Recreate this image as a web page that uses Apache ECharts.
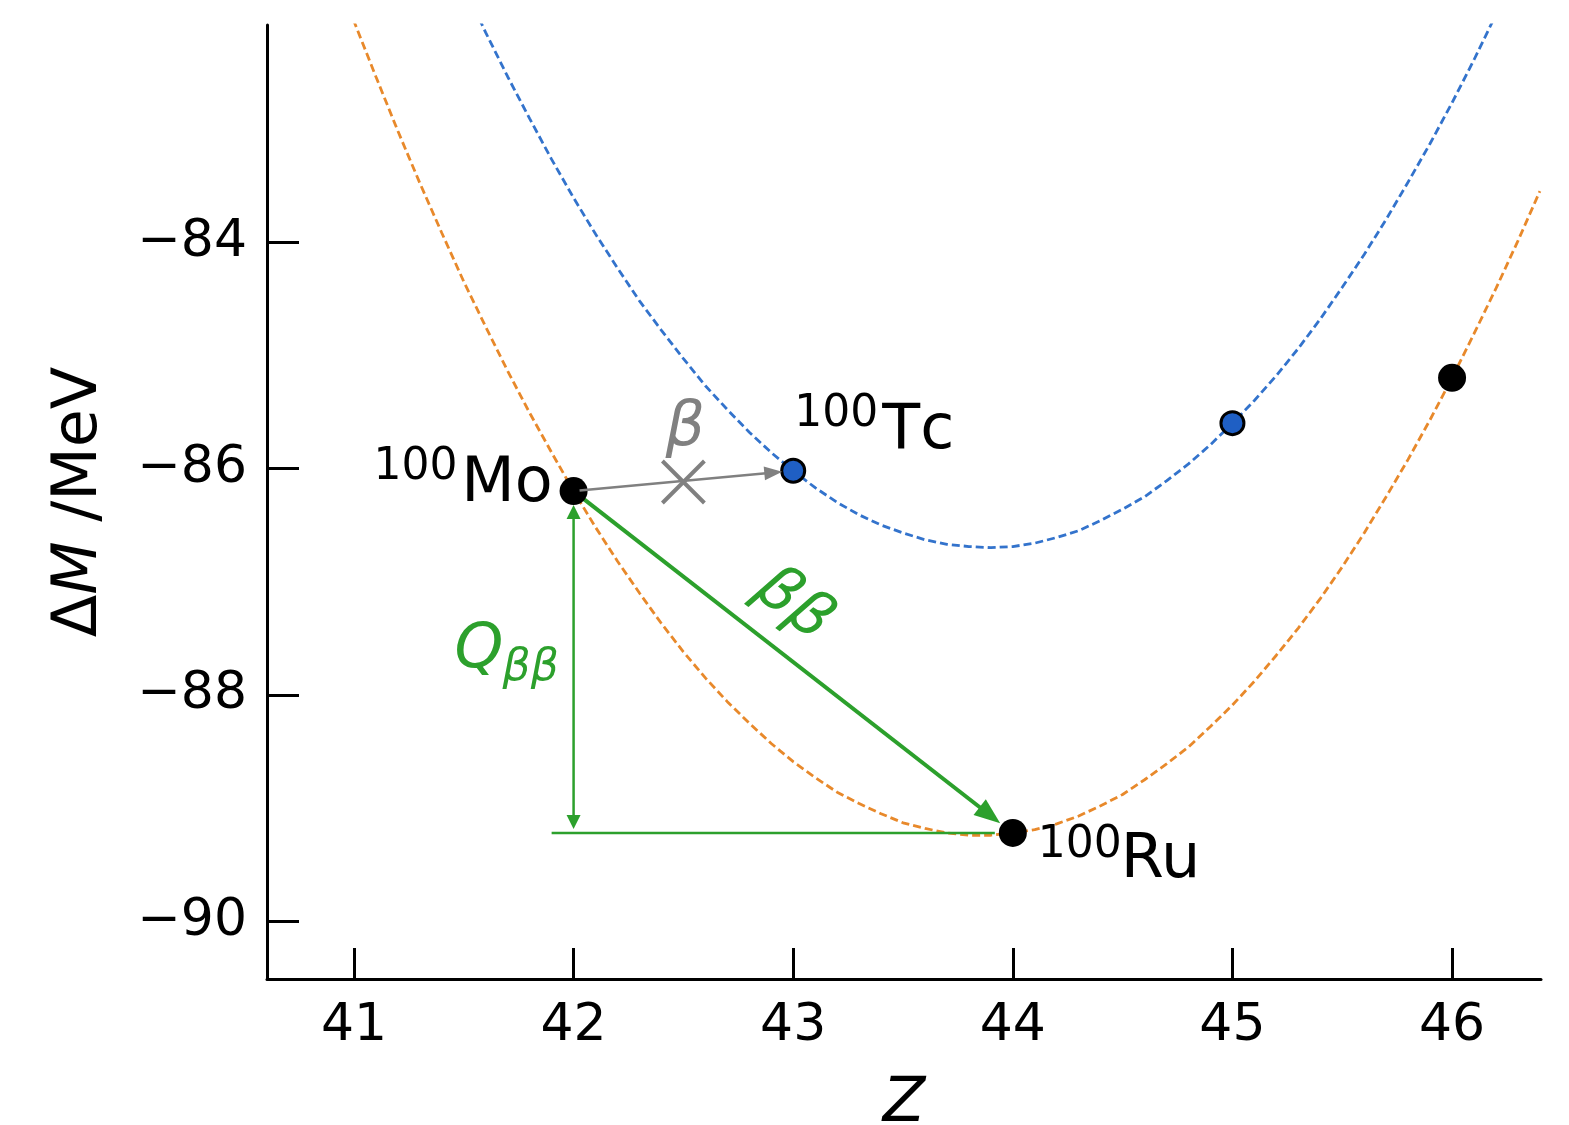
<!DOCTYPE html>
<html><head><meta charset="utf-8">
<script src="https://cdn.jsdelivr.net/npm/echarts@6/dist/echarts.min.js"></script>
<style>html,body{margin:0;padding:0;background:#fff}#c{width:1569px;height:1125px}</style>
</head><body><div id="c"></div>
<script>
// ---- data ----
const xTicks = [41, 42, 43, 44, 45, 46];
const yTicks = [-90, -88, -86, -84];
// even-even nuclei (black) : 100Mo, 100Ru, 100Pd
const evenZ = [42, 44, 46];
const evenDM = [-86.2, -89.22, -85.2];
// odd-odd nuclei (blue) : 100Tc, 100Rh
const oddZ = [43, 45];
const oddDM = [-86.02, -85.6];
// dashed mass parabolas
const evenCurveZ = [40.9, 41.0, 41.1, 41.2, 41.3, 41.4, 41.5, 41.6, 41.7, 41.8, 41.9, 42.0, 42.1, 42.2, 42.3, 42.4, 42.5, 42.6, 42.7, 42.8, 42.9, 43.0, 43.1, 43.2, 43.3, 43.4, 43.5, 43.6, 43.7, 43.8, 43.9, 44.0, 44.1, 44.2, 44.3, 44.4, 44.5, 44.6, 44.7, 44.8, 44.9, 45.0, 45.1, 45.2, 45.3, 45.4, 45.5, 45.6, 45.7, 45.8, 45.9, 46.0, 46.1, 46.2, 46.3, 46.4];
const evenCurveDM = [-81.54, -82.05, -82.54, -83.02, -83.48, -83.92, -84.35, -84.75, -85.14, -85.51, -85.86, -86.20, -86.52, -86.82, -87.10, -87.37, -87.62, -87.85, -88.06, -88.25, -88.43, -88.59, -88.73, -88.86, -88.96, -89.05, -89.13, -89.18, -89.22, -89.24, -89.24, -89.22, -89.19, -89.14, -89.07, -88.98, -88.88, -88.75, -88.61, -88.46, -88.28, -88.09, -87.88, -87.65, -87.41, -87.15, -86.87, -86.57, -86.25, -85.92, -85.57, -85.20, -84.81, -84.41, -83.99, -83.55];
const oddCurveZ = [41.5, 41.6, 41.7, 41.8, 41.9, 42.0, 42.1, 42.2, 42.3, 42.4, 42.5, 42.6, 42.7, 42.8, 42.9, 43.0, 43.1, 43.2, 43.3, 43.4, 43.5, 43.6, 43.7, 43.8, 43.9, 44.0, 44.1, 44.2, 44.3, 44.4, 44.5, 44.6, 44.7, 44.8, 44.9, 45.0, 45.1, 45.2, 45.3, 45.4, 45.5, 45.6, 45.7, 45.8, 45.9, 46.0, 46.1, 46.2, 46.3];
const oddCurveDM = [-81.74, -82.15, -82.54, -82.91, -83.27, -83.61, -83.93, -84.23, -84.52, -84.78, -85.03, -85.27, -85.48, -85.68, -85.86, -86.02, -86.17, -86.30, -86.41, -86.50, -86.57, -86.63, -86.67, -86.69, -86.70, -86.69, -86.66, -86.61, -86.55, -86.46, -86.36, -86.25, -86.11, -85.96, -85.79, -85.60, -85.40, -85.18, -84.94, -84.68, -84.40, -84.11, -83.80, -83.47, -83.13, -82.77, -82.39, -81.99, -81.58];
const massNumber = '100';
const nuclideNames = ['Mo', 'Tc', 'Ru'];
const forbiddenZ = [42.5];
const forbiddenDM = [-86.12];
const qBaseStartZ = [41.9];

// ---- styles ----
const FONT = 'DejaVu Sans';
const GREEN = '#2ca02c';
const GRAY = '#808080';
const BLUE_LINE = '#3373cc';
const BLUE_DOT = '#1f5fc4';
const ORANGE = '#e8892b';

const Mo = [evenZ[0], evenDM[0]];
const Ru = [evenZ[1], evenDM[1]];
const Tc = [oddZ[0], oddDM[0]];

function headEl(tip, ux, uy, L, W, color) {
  const bx = tip[0] - ux * L, by = tip[1] - uy * L;
  return { type: 'polygon', shape: { points: [tip, [bx - uy * W, by + ux * W], [bx + uy * W, by - ux * W]] }, style: { fill: color } };
}
function arrowEls(p1, p2, sA, sB, headA, headB, L, W, lw, color) {
  const dx = p2[0] - p1[0], dy = p2[1] - p1[1], d = Math.hypot(dx, dy), ux = dx / d, uy = dy / d;
  const a = [p1[0] + ux * sA, p1[1] + uy * sA], b = [p2[0] - ux * sB, p2[1] - uy * sB];
  const la = headA ? [a[0] + ux * L * 0.9, a[1] + uy * L * 0.9] : a;
  const lb = headB ? [b[0] - ux * L * 0.9, b[1] - uy * L * 0.9] : b;
  const els = [{ type: 'line', shape: { x1: la[0], y1: la[1], x2: lb[0], y2: lb[1] }, style: { stroke: color, lineWidth: lw } }];
  if (headB) els.push(headEl(b, ux, uy, L, W, color));
  if (headA) els.push(headEl(a, -ux, -uy, L, W, color));
  return els;
}
function txt(x, y, text, size, color, align, italic, rot) {
  return { type: 'text', x: x, y: y, rotation: rot || 0,
    style: { text: text, fill: color, fontSize: size, fontFamily: FONT, fontStyle: italic ? 'italic' : 'normal', align: align, verticalAlign: 'middle' } };
}

const chart = echarts.init(document.getElementById('c'), null, { renderer: 'canvas' });
chart.setOption({
  animation: false,
  backgroundColor: '#fff',
  grid: { left: 267, right: 28, top: 25, bottom: 146, containLabel: false, outerBoundsMode: 'none' },
  xAxis: {
    type: 'value', min: 40.604, max: 46.405,
    axisLine: { onZero: false, lineStyle: { color: '#000', width: 3 } },
    axisTick: { inside: true, length: 31, customValues: xTicks, lineStyle: { color: '#000', width: 3 } },
    axisLabel: { customValues: xTicks, fontSize: 52, fontFamily: FONT, color: '#000', margin: 21 },
    splitLine: { show: false },
    name: 'Z', nameLocation: 'middle', nameGap: 95,
    nameTextStyle: { fontSize: 62, fontStyle: 'italic', fontFamily: FONT, color: '#000' }
  },
  yAxis: {
    type: 'value', min: -90.51, max: -82.083,
    axisLine: { show: true, onZero: false, lineStyle: { color: '#000', width: 3 } },
    axisTick: { show: true, inside: true, length: 32, customValues: yTicks, lineStyle: { color: '#000', width: 3 } },
    axisLabel: { customValues: yTicks, fontSize: 52, fontFamily: FONT, color: '#000', margin: 20,
      formatter: v => String(v).replace('-', '\u2212') },
    splitLine: { show: false },
    name: '{n|\u0394}{i|M}{n| /MeV}', nameLocation: 'middle', nameGap: 156,
    nameTextStyle: { fontSize: 62, fontFamily: FONT, color: '#000',
      rich: { n: { fontSize: 62, fontFamily: FONT, color: '#000' }, i: { fontSize: 62, fontFamily: FONT, fontStyle: 'italic', color: '#000' } } }
  },
  series: [
    { type: 'line', z: 1, data: evenCurveZ.map((z, i) => [z, evenCurveDM[i]]), smooth: false, showSymbol: false, symbol: 'none',
      lineStyle: { color: ORANGE, width: 2.8, type: [8, 4] }, clip: true },
    { type: 'line', z: 1, data: oddCurveZ.map((z, i) => [z, oddCurveDM[i]]), smooth: false, showSymbol: false, symbol: 'none',
      lineStyle: { color: BLUE_LINE, width: 2.8, type: [8, 4] }, clip: true },
    { type: 'custom', z: 2, data: [[Mo[0], Mo[1]]], clip: false,
      renderItem: function (params, api) {
        const pMo = api.coord(Mo), pRu = api.coord(Ru);
        const pBot = api.coord([Mo[0], Ru[1]]);
        const pBase = api.coord([qBaseStartZ[0], Ru[1]]);
        let ch = [];
        ch = ch.concat(arrowEls(pBase, pRu, 0, 18, false, false, 0, 0, 2.5, GREEN));
        ch = ch.concat(arrowEls(pMo, pBot, 14, 4, true, true, 14, 7, 2.5, GREEN));
        ch = ch.concat(arrowEls(pMo, pRu, 13, 16, false, true, 26, 10, 4, GREEN));
        const mid = [(pMo[0] + pRu[0]) / 2, (pMo[1] + pRu[1]) / 2];
        const ang = Math.atan2(pRu[1] - pMo[1], pRu[0] - pMo[0]);
        ch.push(txt(mid[0], mid[1] - 57, '\u03b2\u03b2', 62, GREEN, 'center', true, -ang));
        const vm = [pMo[0], (pMo[1] + pBot[1]) / 2];
        ch.push(txt(vm[0] - 119, vm[1] - 11, 'Q', 62, GREEN, 'left', true));
        ch.push(txt(vm[0] - 71, vm[1] + 6.5, '\u03b2\u03b2', 44, GREEN, 'left', true));
        return { type: 'group', children: ch };
      } },
    { type: 'scatter', z: 3, data: evenZ.map((z, i) => [z, evenDM[i]]), symbol: 'circle', symbolSize: 28,
      itemStyle: { color: '#000', opacity: 1 } },
    { type: 'scatter', z: 3, data: oddZ.map((z, i) => [z, oddDM[i]]), symbol: 'circle', symbolSize: 23,
      itemStyle: { color: BLUE_DOT, borderColor: '#000', borderWidth: 3, opacity: 1 } },
    { type: 'custom', z: 4, data: [[forbiddenZ[0], forbiddenDM[0]]], clip: false,
      renderItem: function (params, api) {
        const pMo = api.coord(Mo), pTc = api.coord(Tc), pRu = api.coord(Ru);
        const px = api.coord([api.value(0), api.value(1)]);
        let ch = arrowEls(pMo, pTc, 6, 11, false, true, 18, 7, 2.5, GRAY);
        const s = 21;
        ch.push({ type: 'line', shape: { x1: px[0] - s, y1: px[1] - s, x2: px[0] + s, y2: px[1] + s }, style: { stroke: GRAY, lineWidth: 4 } });
        ch.push({ type: 'line', shape: { x1: px[0] - s, y1: px[1] + s, x2: px[0] + s, y2: px[1] - s }, style: { stroke: GRAY, lineWidth: 4 } });
        ch.push(txt(px[0] + 2, px[1] - 53.5, '\u03b2', 62, GRAY, 'center', true));
        // nuclide labels (letters drawn separately: no kerning, as in the reference)
        ch.push(txt(pMo[0] - 21, pMo[1] - 6, nuclideNames[0], 62, '#000', 'right'));
        ch.push(txt(pMo[0] - 116, pMo[1] - 24, massNumber, 44, '#000', 'right'));
        ch.push(txt(pTc[0] + 1, pTc[1] - 56, massNumber, 44, '#000', 'left'));
        ch.push(txt(pTc[0] + 89, pTc[1] - 39, nuclideNames[1].charAt(0), 62, '#000', 'left'));
        ch.push(txt(pTc[0] + 89 + 38, pTc[1] - 39, nuclideNames[1].charAt(1), 62, '#000', 'left'));
        ch.push(txt(pRu[0] + 25, pRu[1] + 13, massNumber, 44, '#000', 'left'));
        ch.push(txt(pRu[0] + 108, pRu[1] + 27.5, nuclideNames[2], 62, '#000', 'left'));
        return { type: 'group', children: ch };
      } }
  ]
});
</script>
</body></html>
